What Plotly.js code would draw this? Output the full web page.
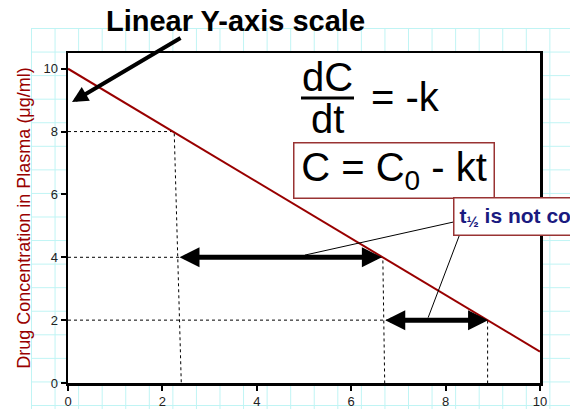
<!DOCTYPE html>
<html>
<head>
<meta charset="utf-8">
<script src="https://cdn.plot.ly/plotly-3.0.1.min.js"></script>
<style>
  html, body { margin: 0; padding: 0; background: #ffffff; }
  #wrap { position: relative; width: 570px; height: 409px; overflow: hidden; }
  #grid {
    position: absolute; left: 31px; top: 28px; right: 0; bottom: 0;
    background-image:
      linear-gradient(to right, #bff4f4 1px, transparent 1px),
      linear-gradient(to bottom, #bff4f4 1px, transparent 1px);
    background-size: 23.57px 23.57px;
  }
  #chart { position: absolute; left: 0; top: 0; width: 570px; height: 409px; }
</style>
</head>
<body>
<div id="wrap">
  <div id="grid"></div>
  <div id="chart"></div>
</div>
<script>
// Zero-order elimination: C = C0 - k t
const time = [0, 10];
const concentration = [10, 1];

// Dashed guide lines (concentration level, time at the line, time at the axis)
const guideLevels = [8, 4, 2];
const guideTimesTop = [2.25, 6.67, 8.89];
const guideTimesBottom = [2.4, 6.71, 8.89];

// Half-life double arrows
const halfLifeLevels = [4, 2];
const halfLifeStart = [2.33, 6.69];
const halfLifeEnd = [6.65, 8.9];

const xTicks = [0, 2, 4, 6, 8, 10];
const yTicks = [0, 2, 4, 6, 8, 10];

const RED = '#990000';
const FONT = 'Liberation Sans, Arial, sans-serif';

// pixel -> paper helpers (plot area: x 68..540, y 53..383)
const px = v => (v - 68) / 472;
const py = v => (383 - v) / 330;

const traces = [];
guideLevels.forEach((lvl, i) => {
  traces.push({
    x: [0, guideTimesTop[i], guideTimesBottom[i]],
    y: [lvl, lvl, 0],
    mode: 'lines', type: 'scatter', hoverinfo: 'skip', showlegend: false,
    line: { color: '#000000', width: 1, dash: '3px,3px' }
  });
});
traces.push({
  x: time, y: concentration, mode: 'lines', type: 'scatter', showlegend: false,
  line: { color: RED, width: 2 }
});

const annotations = [];
halfLifeLevels.forEach((lvl, i) => {
  annotations.push({
    x: halfLifeEnd[i], y: lvl, ax: halfLifeStart[i], ay: lvl,
    xref: 'x', yref: 'y', axref: 'x', ayref: 'y',
    text: '', showarrow: true, arrowhead: 2, startarrowhead: 2,
    arrowside: 'end+start', arrowwidth: 5, arrowsize: 0.8, startarrowsize: 0.8,
    arrowcolor: '#000000', standoff: 0, startstandoff: 0
  });
});
// "Linear Y-axis scale" pointer
annotations.push({
  x: 0.085, y: 8.94, xref: 'x', yref: 'y', ax: 110, ay: -65,
  text: '', showarrow: true, arrowhead: 2, arrowwidth: 4, arrowsize: 0.8,
  arrowcolor: '#000000'
});
const txt = (text, x, y, size, extra) => Object.assign({
  x: px(x), y: py(y), xref: 'paper', yref: 'paper', xanchor: 'center', yanchor: 'middle',
  text: text, showarrow: false, font: { family: FONT, size: size, color: '#000000' }
}, extra || {});

annotations.push(txt('<b>Linear Y-axis scale</b>', 235, 21, 29));
annotations.push(txt('dC', 327, 77, 40));
annotations.push(txt('dt', 327, 119, 40));
annotations.push(txt('= -k', 369, 97, 40, { xanchor: 'left' }));
annotations.push(txt('C = C<sub>0</sub> - kt', 394, 170, 40, {
  width: 199, height: 54, borderpad: 0, borderwidth: 1.5, bordercolor: '#993333',
  bgcolor: '#ffffff'
}));
annotations.push(txt('<b>t<sub>½</sub> is not constant</b>', 453, 216.5, 21, {
  xanchor: 'left', align: 'left', borderpad: 5, borderwidth: 1.5,
  bordercolor: '#993333', bgcolor: '#ffffff',
  font: { family: FONT, size: 21, color: '#1a1a80' }
}));

const shapes = [
  // fraction bar
  { type: 'line', xref: 'paper', yref: 'paper',
    x0: px(301), x1: px(354), y0: py(98), y1: py(98),
    line: { color: '#000000', width: 3 } },
  // callout leader lines
  { type: 'line', xref: 'x', yref: 'y', x0: 8.16, y0: 5.12, x1: 5.02, y1: 4.07,
    line: { color: '#000000', width: 1 } },
  { type: 'line', xref: 'x', yref: 'y', x0: 8.31, y0: 4.77, x1: 7.63, y1: 2.08,
    line: { color: '#000000', width: 1 } }
];

const layout = {
  width: 570, height: 409,
  margin: { l: 68, r: 30, t: 53, b: 26 },
  paper_bgcolor: 'rgba(0,0,0,0)',
  plot_bgcolor: '#ffffff',
  showlegend: false,
  xaxis: {
    range: [0, 10], tickvals: xTicks, ticktext: xTicks.map(String),
    showgrid: false, zeroline: false, showline: true, mirror: true,
    linecolor: '#000000', linewidth: 2.5,
    ticks: 'outside', ticklen: 5, tickwidth: 2, tickcolor: '#000000',
    tickfont: { family: FONT, size: 13, color: '#222222' }
  },
  yaxis: {
    range: [0, 10.5], tickvals: yTicks, ticktext: yTicks.map(String),
    showgrid: false, zeroline: false, showline: true, mirror: true,
    linecolor: '#000000', linewidth: 2.5,
    ticks: 'outside', ticklen: 5, tickwidth: 2, tickcolor: '#000000',
    tickfont: { family: FONT, size: 13, color: '#222222' },
    title: { text: 'Drug Concentration in Plasma (μg/ml)', standoff: 8,
             font: { family: FONT, size: 18, color: RED } }
  },
  annotations: annotations,
  shapes: shapes
};

Plotly.newPlot('chart', traces, layout, { displayModeBar: false, staticPlot: true });
</script>
</body>
</html>
